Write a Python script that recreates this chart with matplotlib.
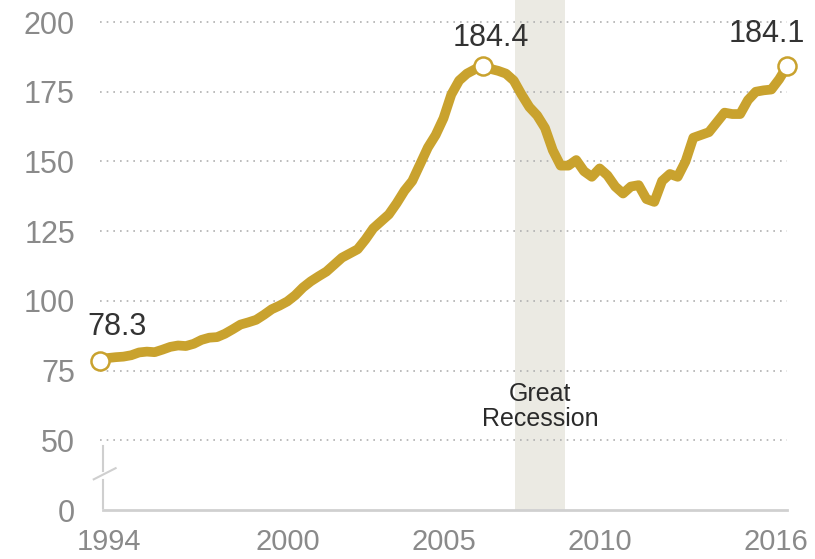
import numpy as np
import matplotlib.pyplot as plt
import matplotlib.transforms as mtransforms

# quarterly index values, 1994 Q1 to 2016 Q1
start_year = 1994
index_values = [
    78.3, 79.5, 79.8, 80.0,
    80.5, 81.5, 81.8, 81.6,
    82.5, 83.5, 84.0, 83.8,
    84.6, 86.0, 86.8, 87.0,
    88.2, 89.8, 91.5, 92.3,
    93.2, 95.0, 97.0, 98.3,
    99.8, 102.0, 104.8, 107.0,
    108.8, 110.5, 113.0, 115.5,
    117.0, 118.5, 122.0, 126.0,
    128.5, 131.0, 135.0, 139.5,
    143.0, 149.0, 155.0, 159.5,
    165.5, 174.0, 179.0, 181.5,
    183.0, 184.4, 183.2, 182.5,
    181.5, 179.0, 174.0, 169.5,
    166.5, 162.0, 154.0, 148.5,
    148.5, 150.5, 146.5, 144.5,
    147.5, 145.0, 141.0, 138.5,
    141.0, 141.5, 136.5, 135.5,
    143.0, 145.5, 144.5, 150.0,
    158.5, 159.5, 160.5, 164.0,
    167.5, 167.0, 167.0, 172.0,
    175.0, 175.5, 175.8, 179.5,
    184.1,
]
years = start_year + np.arange(len(index_values)) / 4

# highlighted points and their labels
highlight_idx = [0, 49, 88]
highlight_labels = ["78.3", "184.4", "184.1"]

recession_start = 2007.3
recession_end = 2008.9

y_ticks = [25, 50, 75, 100, 125, 150, 175, 200]
y_tick_labels = ["0", "50", "75", "100", "125", "150", "175", "200"]
x_ticks = [1994, 2000, 2005, 2010, 2016]

gold = "#c9a22e"
plt.rcParams["font.family"] = ["Liberation Sans", "DejaVu Sans"]

fig = plt.figure(figsize=(8.15, 5.59), dpi=100)
ax = fig.add_axes([100 / 815, 1 - 510 / 559, 687 / 815, 510 / 559])

ax.set_xlim(1994, 2016)
ax.set_ylim(25, 207.9)

# recession band
ax.axvspan(recession_start, recession_end, color="#ebeae3", zorder=0, lw=0)
ax.text((recession_start + recession_end) / 2, 62, "Great\nRecession",
        ha="center", va="center", fontsize=18, color="#2a2a2a",
        linespacing=1.05, zorder=3)

# dotted grid lines
for yt in y_ticks[1:]:
    ax.axhline(yt, color="#b0b0b0", lw=1.2, linestyle=(0, (1, 3)), zorder=1)

ax.plot(years, index_values, color=gold, lw=7, solid_joinstyle="round",
        solid_capstyle="round", zorder=4, clip_on=False)

ax.plot(years[highlight_idx], np.array(index_values)[highlight_idx], "o",
        ms=13, mfc="white", mec=gold, mew=1.8, zorder=5, clip_on=False)

offsets = [(17, 34), (8, 28), (-20, 32)]
for i, lab, off in zip(highlight_idx, highlight_labels, offsets):
    ax.annotate(lab, (years[i], index_values[i]), xytext=off,
                textcoords="offset pixels", ha="center", va="center",
                fontsize=22, color="#333333", zorder=6)

# axes styling
for s in ["top", "right", "left"]:
    ax.spines[s].set_visible(False)
ax.spines["bottom"].set_color("#d0d0d0")
ax.spines["bottom"].set_linewidth(2)
ax.spines["bottom"].set_bounds(1994.1, 2016)

ax.set_yticks(y_ticks)
ax.set_yticklabels(y_tick_labels)
ax.set_xticks(x_ticks)
ax.set_xticklabels([str(x) for x in x_ticks])
ax.tick_params(axis="both", length=0, colors="#8a8a8a")
ax.tick_params(axis="y", pad=18, labelsize=22)
ax.tick_params(axis="x", pad=13, labelsize=21)

# shift end labels inward
xlabels = ax.get_xticklabels()
xlabels[0].set_transform(xlabels[0].get_transform() +
                         mtransforms.ScaledTranslation(0.09, 0, fig.dpi_scale_trans))
xlabels[-1].set_transform(xlabels[-1].get_transform() +
                          mtransforms.ScaledTranslation(-0.11, 0, fig.dpi_scale_trans))

# axis break mark
brk = dict(color="#cfcfcf", lw=1.5, clip_on=False, zorder=2)
ax.plot([1994.1, 1994.1], [47.9, 39.0], **brk)
ax.plot([1993.8, 1994.5], [36.0, 40.0], **brk)
ax.plot([1994.1, 1994.1], [35.8, 25.7], **brk)

fig.savefig("out.png", dpi=100)
